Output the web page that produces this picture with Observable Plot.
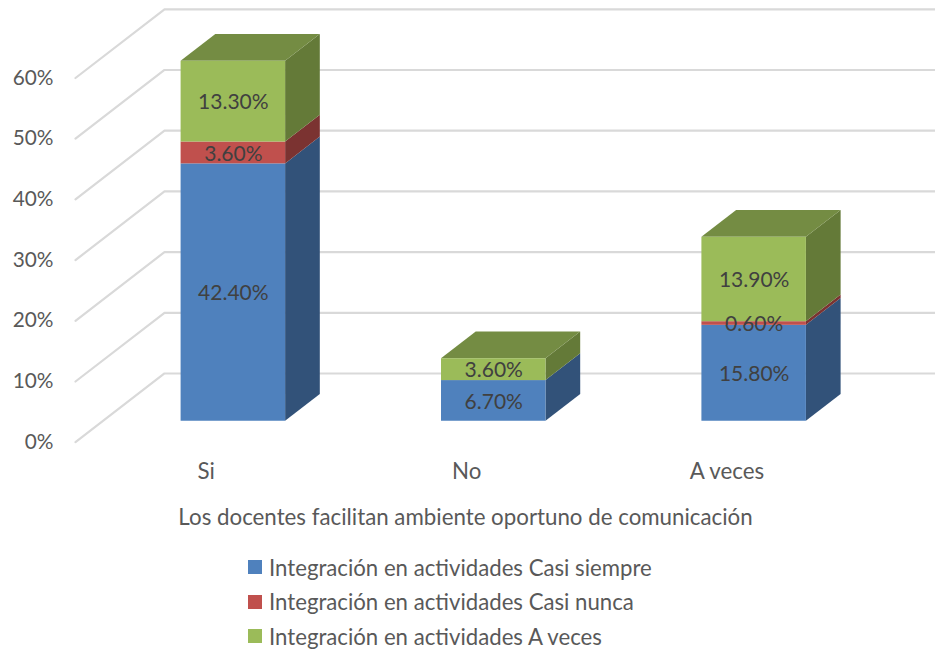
<!DOCTYPE html>
<html><head><meta charset="utf-8">
<script src="https://cdn.jsdelivr.net/npm/d3@7"></script>
<script src="https://cdn.jsdelivr.net/npm/@observablehq/plot@0.6"></script>
<style>
html,body{margin:0;padding:0;background:#fff;overflow:hidden}
#chart svg{display:block}
#legend{padding-left:248px;margin-top:15px;font-family:Lato,sans-serif;font-size:22.2px;color:#595959}
.row{display:flex;align-items:center;height:24px;margin-bottom:10.5px}
.sw{width:14px;height:14px;margin-right:7px;flex:none}
</style></head><body>
<div id="chart"></div><div id="legend"></div>
<script>
const categories = ["Si", "No", "A veces"];
const seriesNames = ["Integración en actividades Casi siempre", "Integración en actividades Casi nunca", "Integración en actividades A veces"];
const casiSiempre = [42.4, 6.7, 15.8];
const casiNunca = [3.6, 0, 0.6];
const aVeces = [13.3, 3.6, 13.9];
const yTicks = [0, 10, 20, 30, 40, 50, 60];
const frontColors = ["#4f81bd", "#c0504d", "#9bbb59"];
const sideColors = ["#325279", "#7b3331", "#647a38"];
const topColors = ["#3b6290", "#933d3a", "#748c43"];
const axisTitle = "Los docentes facilitan ambiente oportuno de comunicación";

// oblique projection, in scale units
const depthX = 0.3418, depthY = 11.32, nearDepth = 0.305, farDepth = 0.695, barWidth = 0.4013;
const wallLeft = -0.502, wallRight = 2.801;

const values = [casiSiempre, casiNunca, aVeces];
const segments = [];
categories.forEach((c, i) => {
  let base = 0;
  values.forEach((v, s) => {
    const val = v[i];
    if (val > 0) segments.push({i, s, c, val, y0: base, y1: base + val});
    base += val;
  });
});
const totals = categories.map((c, i) => d3.sum(values, v => v[i]));

const xNear = d => d.i - barWidth / 2 + nearDepth * depthX;
const yNear = v => v + nearDepth * depthY;
const shift = (farDepth - nearDepth);

const fronts = segments.map(d => ({...d, x1: xNear(d), x2: xNear(d) + barWidth, yA: yNear(d.y0), yB: yNear(d.y1), fill: frontColors[d.s]}));
const sides = segments.flatMap((d, k) => [0, 1].map(t => ({
  key: k, fill: sideColors[d.s],
  x: xNear(d) + barWidth + t * shift * depthX,
  y1: yNear(d.y0) + t * shift * depthY,
  y2: yNear(d.y1) + t * shift * depthY
})));
const tops = segments.filter(d => d.y1 === totals[d.i]).flatMap((d, k) => [0, 1].map(t => ({
  key: k, fill: topColors[d.s],
  y: yNear(d.y1) + t * shift * depthY,
  x1: xNear(d) + t * shift * depthX,
  x2: xNear(d) + barWidth + t * shift * depthX
})));
const grid = yTicks.flatMap(t => [
  {t, x: wallLeft, y: t},
  {t, x: wallLeft + depthX, y: t + depthY},
  {t, x: wallRight, y: t + depthY}
]);

const font = 'Lato, sans-serif';
const chart = Plot.plot({
  width: 935, height: 540,
  marginLeft: 56, marginRight: 61, marginTop: 77.5, marginBottom: 98.3,
  style: {fontFamily: font, background: "#fff"},
  x: {domain: [-0.5749, 2.5664]},
  y: {domain: [0, 60]},
  marks: [
    Plot.line(grid, {x: "x", y: "y", z: "t", stroke: "#d9d9d9", strokeWidth: 2.2, curve: "linear"}),
    Plot.area(sides, {x1: "x", y1: "y1", y2: "y2", z: "key", fill: {value: "fill", scale: null}}),
    Plot.area(tops, {y1: "y", x1: "x1", x2: "x2", z: "key", fill: {value: "fill", scale: null}}),
    Plot.rect(fronts, {x1: "x1", x2: "x2", y1: "yA", y2: "yB", fill: {value: "fill", scale: null}}),
    Plot.text(fronts, {x: d => (d.x1 + d.x2) / 2, y: d => (d.yA + d.yB) / 2, text: d => d.val.toFixed(2) + "%", fill: "#404040", fontSize: 21, dy: 1}),
    Plot.axisY({ticks: yTicks, tickFormat: d => d + "%", tickSize: 0, tickPadding: 3, label: null, fontSize: 20.8, color: "#595959"}),
    Plot.axisX({ticks: [0, 1, 2], tickFormat: i => categories[i], tickSize: 0, tickPadding: 21, label: axisTitle, labelAnchor: "center", labelArrow: "none", labelOffset: 83, fontSize: 22.3, color: "#595959"})
  ]
});
document.getElementById("chart").append(chart);

const legend = document.getElementById("legend");
seriesNames.forEach((n, s) => {
  const r = document.createElement("div"); r.className = "row";
  const b = document.createElement("span"); b.className = "sw"; b.style.background = frontColors[s];
  const t = document.createElement("span"); t.textContent = n;
  r.append(b, t); legend.append(r);
});
</script></body></html>
